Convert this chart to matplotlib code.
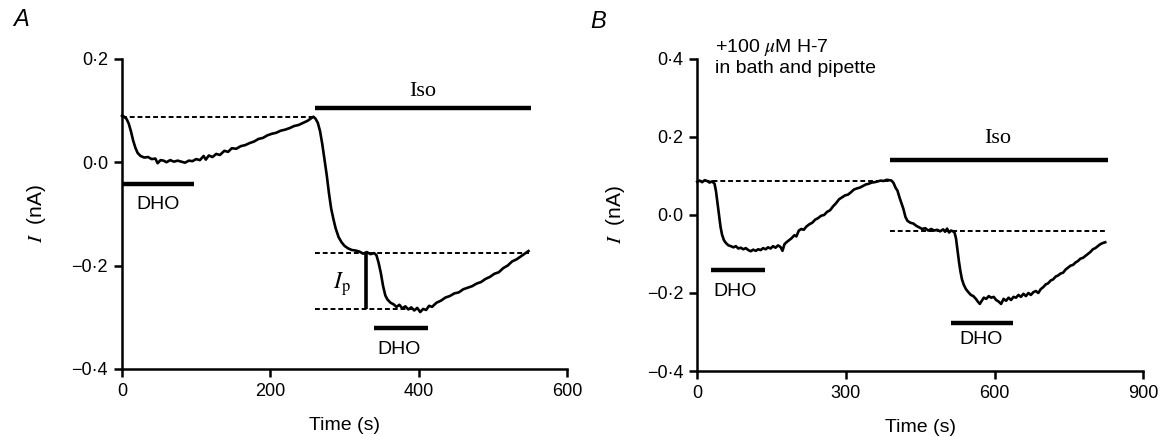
import matplotlib
matplotlib.use("Agg")
import matplotlib.pyplot as plt
from matplotlib.ticker import FuncFormatter

plt.rcParams["font.family"] = ["Liberation Sans", "DejaVu Sans"]
plt.rcParams["mathtext.fontset"] = "stix"

# panel A trace (time s, current nA)
a_t = [0, 3, 6, 9, 12, 15, 18, 21, 25, 30, 35, 40, 45, 48, 52, 56, 60, 65, 70, 75,
       80, 85, 90, 95, 100, 105, 110, 113, 117, 122, 127, 132, 138, 143, 148, 154,
       160, 166, 172, 178, 184, 190, 196, 202, 208, 214, 220, 226, 232, 238, 244,
       250, 255, 258, 261, 264, 267, 270, 273, 276, 279, 282, 285, 288, 292, 296,
       300, 305, 310, 315, 320, 325, 330, 335, 340, 343, 346, 349, 352, 355, 358,
       362, 366, 370, 374, 378, 382, 386, 390, 394, 398, 402, 406, 410, 414, 418,
       424, 430, 436, 442, 448, 454, 460, 466, 472, 478, 484, 490, 496, 502, 508,
       514, 520, 526, 532, 538, 544, 548]
a_i = [0.090, 0.088, 0.084, 0.075, 0.060, 0.042, 0.028, 0.018, 0.012, 0.009, 0.010,
       0.006, 0.007, -0.002, 0.004, 0.003, 0.000, 0.004, 0.001, 0.003, 0.001, -0.001,
       0.003, 0.002, 0.006, 0.004, 0.012, 0.005, 0.013, 0.010, 0.016, 0.014, 0.022,
       0.020, 0.027, 0.026, 0.031, 0.033, 0.037, 0.040, 0.045, 0.047, 0.052, 0.055,
       0.057, 0.061, 0.063, 0.066, 0.070, 0.072, 0.076, 0.080, 0.085, 0.088, 0.084,
       0.076, 0.060, 0.035, 0.005, -0.025, -0.060, -0.090, -0.110, -0.128, -0.145,
       -0.155, -0.162, -0.167, -0.170, -0.171, -0.173, -0.177, -0.174, -0.178, -0.176,
       -0.180, -0.195, -0.215, -0.240, -0.258, -0.266, -0.272, -0.275, -0.280, -0.276,
       -0.283, -0.279, -0.285, -0.281, -0.287, -0.282, -0.290, -0.284, -0.286, -0.278,
       -0.280, -0.272, -0.268, -0.262, -0.259, -0.254, -0.252, -0.246, -0.243, -0.240,
       -0.235, -0.232, -0.226, -0.222, -0.216, -0.213, -0.205, -0.200, -0.192, -0.188,
       -0.182, -0.176, -0.172]

# panel B trace
b_t = [0, 5, 10, 15, 20, 25, 30, 35, 38, 41, 44, 47, 50, 54, 58, 63, 68, 73, 78, 83,
       88, 93, 98, 103, 108, 113, 118, 123, 128, 133, 138, 143, 148, 153, 158, 163,
       168, 172, 176, 180, 185, 190, 196, 200, 205, 210, 215, 220, 226, 232, 238,
       244, 250, 256, 262, 268, 274, 280, 286, 292, 298, 304, 310, 316, 322, 328,
       334, 340, 346, 352, 358, 364, 370, 376, 382, 388, 392, 396, 400, 404, 408,
       412, 416, 420, 424, 430, 436, 442, 448, 454, 460, 466, 472, 478, 484, 490,
       496, 500, 504, 508, 512, 516, 519, 522, 525, 528, 531, 534, 538, 542, 547,
       552, 557, 562, 566, 570, 574, 578, 583, 588, 593, 598, 603, 608, 613, 618,
       623, 628, 633, 638, 643, 648, 653, 658, 663, 668, 673, 678, 683, 688, 693,
       698, 703, 708, 713, 718, 723, 728, 733, 738, 743, 748, 753, 758, 763, 768,
       773, 778, 783, 788, 793, 798, 803, 808, 813, 818, 823]
b_i = [0.085, 0.088, 0.084, 0.089, 0.087, 0.083, 0.086, 0.080, 0.060, 0.030, 0.000,
       -0.030, -0.050, -0.065, -0.072, -0.078, -0.080, -0.083, -0.080, -0.086, -0.084,
       -0.088, -0.085, -0.090, -0.093, -0.089, -0.092, -0.088, -0.090, -0.085, -0.088,
       -0.083, -0.086, -0.080, -0.084, -0.078, -0.082, -0.092, -0.075, -0.070, -0.065,
       -0.060, -0.052, -0.055, -0.040, -0.036, -0.038, -0.030, -0.024, -0.020, -0.012,
       -0.008, -0.002, 0.000, 0.008, 0.012, 0.022, 0.030, 0.040, 0.045, 0.050, 0.052,
       0.058, 0.065, 0.068, 0.070, 0.074, 0.078, 0.080, 0.083, 0.084, 0.086, 0.088,
       0.087, 0.090, 0.089, 0.088, 0.082, 0.070, 0.062, 0.045, 0.030, 0.015, -0.005,
       -0.015, -0.020, -0.022, -0.028, -0.032, -0.036, -0.034, -0.040, -0.036, -0.040,
       -0.038, -0.042, -0.037, -0.043, -0.035, -0.045, -0.040, -0.042, -0.045, -0.060,
       -0.090, -0.120, -0.145, -0.165, -0.180, -0.190, -0.198, -0.205, -0.208, -0.215,
       -0.222, -0.228, -0.220, -0.212, -0.215, -0.208, -0.212, -0.210, -0.218, -0.222,
       -0.228, -0.215, -0.220, -0.212, -0.218, -0.210, -0.212, -0.205, -0.210, -0.202,
       -0.208, -0.200, -0.205, -0.198, -0.195, -0.200, -0.190, -0.185, -0.178, -0.175,
       -0.168, -0.165, -0.158, -0.155, -0.150, -0.148, -0.140, -0.135, -0.130, -0.128,
       -0.122, -0.118, -0.112, -0.110, -0.105, -0.100, -0.095, -0.088, -0.085, -0.080,
       -0.075, -0.072, -0.070]

# reference levels (y, x start, x end)
a_dashed = [(0.088, 0, 260), (-0.175, 260, 549), (-0.2845, 260, 395)]
b_dashed = [(0.087, 0, 392), (-0.042, 389, 825)]

# application bars (label, y, x start, x end, label x, label y)
a_bars = [("Iso", 0.105, 260, 551, 406, 0.137),
          ("DHO", -0.043, 0, 97, 48, -0.082),
          ("DHO", -0.321, 340, 413, 373, -0.362)]
b_bars = [("Iso", 0.142, 389, 828, 607, 0.195),
          ("DHO", -0.140, 28, 137, 77, -0.195),
          ("DHO", -0.278, 511, 637, 573, -0.320)]

a_ip = (329, -0.175, -0.2845)


def fmt(v, pos):
    return f"{v:.1f}".replace(".", "\u00b7").replace("-", "\u2212")


def style_axes(ax, xlim, ylim, xticks, yticks):
    ax.set_xlim(*xlim)
    ax.set_ylim(*ylim)
    ax.set_xticks(xticks)
    ax.set_yticks(yticks)
    ax.yaxis.set_major_formatter(FuncFormatter(fmt))
    for s in ["top", "right"]:
        ax.spines[s].set_visible(False)
    for s in ["left", "bottom"]:
        ax.spines[s].set_linewidth(1.8)
    ax.tick_params(direction="out", length=6, width=1.8, labelsize=13, pad=4)
    ax.set_xlabel("Time (s)", fontsize=14)
    ax.set_ylabel("$I$  (nA)", fontsize=15)


def draw_panel(ax, t, i, dashed, bars):
    ax.plot(t, i, color="black", lw=1.9, clip_on=False)
    for y, x0, x1 in dashed:
        ax.hlines(y, x0, x1, colors="black", lw=1.4, linestyles=(0, (2.5, 1.5)))
    for label, y, x0, x1, lx, ly in bars:
        ax.hlines(y, x0, x1, colors="black", lw=3.2)
        if label == "Iso":
            ax.text(lx, ly, label, fontsize=16, ha="center", va="center",
                    family=["Liberation Serif", "DejaVu Serif"])
        else:
            ax.text(lx, ly, label, fontsize=14, ha="center", va="center")


fig = plt.figure(figsize=(11.62, 4.36), dpi=100)

ax_a = fig.add_axes([0.105, 0.154, 0.383, 0.711])
draw_panel(ax_a, a_t, a_i, a_dashed, a_bars)
ax_a.vlines(a_ip[0], a_ip[2], a_ip[1], colors="black", lw=2.6)
ax_a.text(296, -0.236, "$I_{\\rm p}$", fontsize=17, ha="center", va="center")
style_axes(ax_a, (0, 600), (-0.4, 0.2), [0, 200, 400, 600], [-0.4, -0.2, 0.0, 0.2])
ax_a.yaxis.set_label_coords(-0.166, 0.5)
ax_a.xaxis.set_label_coords(0.5, -0.155)

ax_b = fig.add_axes([0.600, 0.149, 0.384, 0.716])
draw_panel(ax_b, b_t, b_i, b_dashed, b_bars)
ax_b.text(35, 0.405, "+100 $\\mu$M H-7\nin bath and pipette", fontsize=14,
          ha="left", va="center", linespacing=1.2)
style_axes(ax_b, (0, 900), (-0.4, 0.4), [0, 300, 600, 900],
           [-0.4, -0.2, 0.0, 0.2, 0.4])
ax_b.yaxis.set_label_coords(-0.157, 0.5)
ax_b.xaxis.set_label_coords(0.5, -0.155)

fig.text(0.011, 0.955, "A", fontsize=17, style="italic", ha="left", va="center")
fig.text(0.508, 0.950, "B", fontsize=17, style="italic", ha="left", va="center")

fig.savefig("out.png", dpi=100)
